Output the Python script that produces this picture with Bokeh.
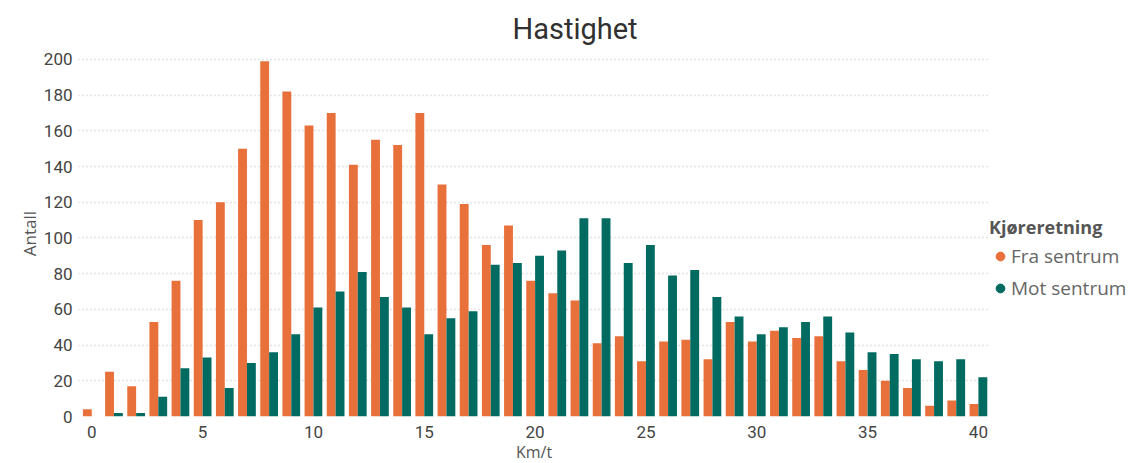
from bokeh.plotting import figure
from bokeh.models import Range1d, Legend, LegendItem, Title, ColumnDataSource, FixedTicker
from bokeh.transform import dodge
from bokeh.embed import file_html
from bokeh.resources import INLINE

speeds = list(range(41))
fra_sentrum = [4, 25, 17, 53, 76, 110, 120, 150, 199, 182, 163, 170, 141, 155, 152, 170,
               130, 119, 96, 107, 76, 69, 65, 41, 45, 31, 42, 43, 32, 53, 42, 48, 44, 45,
               31, 26, 20, 16, 6, 9, 7]
mot_sentrum = [0, 2, 2, 11, 27, 33, 16, 30, 36, 46, 61, 70, 81, 67, 61, 46, 55, 59, 85, 86,
               90, 93, 111, 111, 86, 96, 79, 82, 67, 56, 46, 50, 53, 56, 47, 36, 35, 32, 31,
               32, 22]
series_names = ["Fra sentrum", "Mot sentrum"]
series_colors = ["#E8703A", "#016B61"]
x_ticks = [0, 5, 10, 15, 20, 25, 30, 35, 40]
y_ticks = [0, 20, 40, 60, 80, 100, 120, 140, 160, 180, 200]

src = ColumnDataSource(dict(speed=speeds, fra=fra_sentrum, mot=mot_sentrum))

p = figure(frame_width=911, frame_height=366, output_backend="svg", toolbar_location=None,
           x_range=Range1d(-0.6, 40.5), y_range=Range1d(0, 205),
           min_border_left=78, min_border_top=50, min_border_bottom=30, min_border_right=0,
           background_fill_color="white", border_fill_color="white", outline_line_color=None)

p.add_layout(Title(text="Hastighet", align="left", offset=434, text_font="Roboto",
                   text_font_size="29px", text_font_style="normal", text_color="#303030"), "above")

p.vbar(x=dodge("speed", -0.2, range=p.x_range), top="fra", width=0.4, bottom=0,
       source=src, color=series_colors[0], line_color=None)
p.vbar(x=dodge("speed", 0.2, range=p.x_range), top="mot", width=0.4, bottom=0,
       source=src, color=series_colors[1], line_color=None)

r1 = p.scatter(x=[float("nan")], y=[float("nan")], marker="circle", color=series_colors[0])
r2 = p.scatter(x=[float("nan")], y=[float("nan")], marker="circle", color=series_colors[1])

legend = Legend(items=[LegendItem(label=series_names[0], renderers=[r1]),
                       LegendItem(label=series_names[1], renderers=[r2])],
                title="Kjøreretning", location=(0, 115), orientation="vertical",
                border_line_color=None, background_fill_alpha=0,
                title_text_font="Open Sans", title_text_font_style="bold",
                title_text_font_size="18px", title_text_color="#555555", title_standoff=4,
                label_text_font="Open Sans", label_text_font_size="19px",
                label_text_color="#666666", glyph_width=22, glyph_height=26,
                label_standoff=0, spacing=6, padding=0, margin=0)
p.add_layout(legend, "right")

p.xaxis.ticker = FixedTicker(ticks=x_ticks)
p.yaxis.ticker = FixedTicker(ticks=y_ticks)
for ax in (p.xaxis, p.yaxis):
    ax.axis_line_color = None
    ax.major_tick_line_color = None
    ax.minor_tick_line_color = None
    ax.major_label_text_font = "Roboto"
    ax.major_label_text_font_size = "17px"
    ax.major_label_text_color = "#444444"
    ax.axis_label_text_font = "Open Sans"
    ax.axis_label_text_font_style = "normal"
    ax.axis_label_text_color = "#555555"
p.xaxis.axis_label = "Km/t"
p.yaxis.axis_label = "Antall"
p.xaxis.axis_label_text_font_size = "16px"
p.yaxis.axis_label_text_font_size = "17px"
p.xaxis.major_label_standoff = 3
p.yaxis.major_label_standoff = 0
p.xaxis.axis_label_standoff = 0
p.yaxis.axis_label_standoff = 0

p.xgrid.grid_line_color = None
p.ygrid.grid_line_color = "#c8c8c8"
p.ygrid.grid_line_dash = "1 3"
p.ygrid.grid_line_width = 1.5

open("out.html", "w").write(file_html(p, INLINE))
